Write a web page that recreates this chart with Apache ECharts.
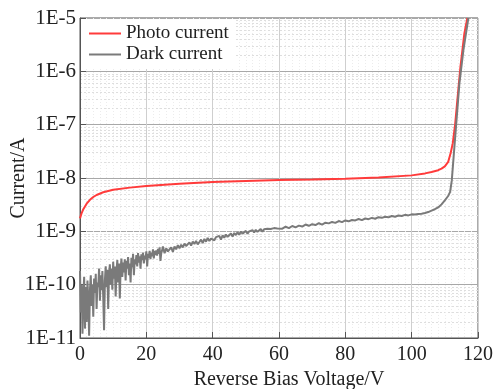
<!DOCTYPE html>
<html>
<head>
<meta charset="utf-8">
<script src="https://cdn.jsdelivr.net/npm/echarts@6/dist/echarts.min.js"></script>
<style>
  html, body { margin: 0; padding: 0; background: #fff; }
  #chart { width: 493px; height: 389px; }
</style>
</head>
<body>
<div id="chart"></div>
<script>
const seriesNames = ['Photo current', 'Dark current'];
const xTicks = [0, 20, 40, 60, 80, 100, 120];

// [voltage V, current A]
const photoCurrent = [
  [0, 1.75e-9], [0.5, 2.2e-9], [1, 2.6e-9], [2, 3.3e-9], [3, 3.9e-9], [4, 4.4e-9],
  [5, 4.8e-9], [7, 5.4e-9], [10, 6.0e-9], [15, 6.6e-9], [20, 7.1e-9], [30, 7.8e-9],
  [40, 8.4e-9], [50, 8.8e-9], [60, 9.2e-9], [70, 9.4e-9], [80, 9.7e-9], [90, 1.02e-8],
  [100, 1.12e-8], [104, 1.22e-8], [106, 1.3e-8], [108, 1.4e-8], [109, 1.5e-8],
  [110, 1.65e-8], [111, 2.0e-8], [111.8, 3.0e-8], [112.4, 4.5e-8], [113.1, 1.0e-7],
  [113.8, 3.0e-7], [114.7, 1.2e-6], [115.9, 5.2e-6], [116.8, 1.0e-5]
];

const darkCurrent = [
  [0, 1.8e-10], [0.25, 3e-11], [0.5, 1.0e-10], [0.75, 1.2e-11], [1, 6e-11], [1.25, 1.4e-10],
  [1.5, 1.5e-11], [1.75, 9e-11], [2, 2e-11], [2.25, 1.2e-10], [2.5, 5e-11], [2.75, 1.1e-11],
  [3, 8e-11], [3.25, 1.5e-10], [3.5, 4e-11], [3.75, 1.0e-10], [4, 2.5e-11], [4.25, 1.3e-10],
  [4.5, 7e-11], [4.75, 1.6e-10], [5, 3.5e-11], [5.25, 1.1e-10], [5.5, 9e-11], [5.75, 2.0e-10],
  [6, 5e-11], [6.25, 1.5e-10], [6.5, 8e-11], [6.75, 1.8e-10], [7, 6e-11], [7.25, 1.4e-11],
  [7.5, 1.2e-10], [7.75, 2.2e-10], [8, 9e-11], [8.25, 1.9e-10], [8.5, 3.5e-11], [8.75, 1.6e-10],
  [9, 2.4e-10], [9.25, 1.0e-10], [9.5, 2.0e-10], [9.75, 8e-11], [10, 2.7e-10], [10.25, 1.3e-10],
  [10.5, 2.2e-10], [10.75, 6e-11], [11, 1.8e-10], [11.25, 2.9e-10], [11.5, 1.1e-10], [11.75, 2.5e-10],
  [12, 5.5e-11], [12.25, 2.0e-10], [12.5, 3.1e-10], [12.75, 1.4e-10], [13, 2.6e-10], [13.25, 1.7e-10],
  [13.5, 3.0e-10], [13.75, 1.2e-10], [14, 2.8e-10], [14.25, 2.0e-10], [14.5, 3.3e-10], [14.75, 1.5e-10],
  [15, 2.5e-10], [15.25, 1.1e-10], [15.5, 3.2e-10], [15.75, 2.1e-10], [16, 3.8e-10], [16.25, 1.5e-10],
  [16.5, 3.0e-10], [16.75, 2.4e-10], [17, 3.6e-10], [17.25, 2.2e-10], [17.5, 3.9e-10], [17.75, 2.6e-10],
  [18, 3.4e-10], [18.25, 2.0e-10], [18.5, 3.7e-10], [18.75, 2.9e-10], [19, 4.0e-10], [19.25, 2.5e-10],
  [19.5, 3.5e-10], [19.75, 3.0e-10], [20, 4.2e-10], [20.25, 2.2e-10], [20.5, 3.8e-10], [20.75, 3.2e-10],
  [21, 4.3e-10], [21.25, 3.0e-10], [21.5, 4.0e-10], [21.75, 3.4e-10], [22, 4.6e-10], [22.25, 3.1e-10],
  [22.5, 4.3e-10], [22.75, 3.6e-10], [23, 4.4e-10], [23.25, 3.5e-10], [23.5, 4.7e-10], [23.75, 3.8e-10],
  [24, 5.0e-10], [24.25, 2.8e-10], [24.5, 3.9e-10], [24.75, 4.4e-10], [25, 5.2e-10], [25.5, 3.9e-10],
  [26, 4.8e-10], [26.5, 4.2e-10], [27, 4.5e-10], [27.5, 5.0e-10], [28, 4.1e-10], [28.5, 5.2e-10],
  [29, 4.6e-10], [29.5, 5.5e-10], [30, 4.8e-10], [30.5, 5.6e-10], [31, 5.0e-10], [31.5, 5.9e-10],
  [32, 5.3e-10], [32.5, 5.1e-10], [33, 6.2e-10], [33.5, 5.4e-10], [34, 6.4e-10], [34.5, 5.8e-10],
  [35, 6.6e-10], [35.5, 5.7e-10], [36, 6.3e-10], [36.5, 7.0e-10], [37, 6.0e-10], [37.5, 7.2e-10],
  [38, 6.4e-10], [38.5, 7.5e-10], [39, 6.6e-10], [39.5, 7.3e-10], [40, 7.9e-10], [40.5, 6.8e-10],
  [41, 7.8e-10], [41.5, 7.2e-10], [42, 8.2e-10], [42.5, 7.0e-10], [43, 8.4e-10], [43.5, 7.6e-10],
  [44, 8.7e-10], [44.5, 7.9e-10], [45, 8.3e-10], [45.5, 9.1e-10], [46, 8.0e-10], [46.5, 9.3e-10],
  [47, 8.5e-10], [47.5, 9.6e-10], [48, 8.6e-10], [48.5, 9.9e-10], [49, 9.0e-10], [49.5, 9.6e-10],
  [50, 1.02e-9], [50.5, 9.0e-10], [51, 1.0e-9], [51.5, 9.4e-10], [52, 1.05e-9], [52.5, 9.5e-10],
  [53, 1.07e-9], [53.5, 9.8e-10], [54, 1.04e-9], [54.5, 1.1e-9], [55, 9.9e-10], [55.5, 1.09e-9],
  [56, 1.02e-9], [56.5, 1.12e-9], [57, 1.04e-9], [57.5, 1.11e-9], [58, 1.05e-9], [58.5, 1.15e-9],
  [59, 1.07e-9], [59.5, 1.13e-9], [60, 1.17e-9], [61, 1.12e-9], [62, 1.22e-9], [63, 1.15e-9],
  [64, 1.26e-9], [65, 1.19e-9], [66, 1.28e-9], [67, 1.23e-9], [68, 1.34e-9], [69, 1.27e-9],
  [70, 1.36e-9], [71, 1.31e-9], [72, 1.42e-9], [73, 1.34e-9], [74, 1.45e-9], [75, 1.41e-9],
  [76, 1.5e-9], [77, 1.44e-9], [78, 1.56e-9], [79, 1.49e-9], [80, 1.6e-9], [81, 1.54e-9],
  [82, 1.63e-9], [83, 1.6e-9], [84, 1.7e-9], [85, 1.62e-9], [86, 1.74e-9], [87, 1.69e-9],
  [88, 1.79e-9], [89, 1.72e-9], [90, 1.84e-9], [91, 1.79e-9], [92, 1.88e-9], [93, 1.83e-9],
  [94, 1.94e-9], [95, 1.88e-9], [96, 1.98e-9], [97, 1.94e-9], [98, 2.04e-9], [99, 1.99e-9],
  [100, 2.08e-9], [101, 2.06e-9], [102, 2.12e-9], [103, 2.14e-9], [104, 2.2e-9], [105, 2.3e-9],
  [106, 2.45e-9], [107, 2.6e-9], [108, 2.8e-9], [109, 3.2e-9], [110, 3.8e-9], [111, 4.6e-9],
  [111.6, 5.5e-9], [112.1, 9e-9], [112.8, 3.3e-8], [113.6, 1.4e-7], [114.4, 6e-7],
  [115.6, 2.5e-6], [117.1, 1.0e-5]
];

const serif = '"Liberation Serif", "DejaVu Serif", serif';
const chart = echarts.init(document.getElementById('chart'));

chart.setOption({
  animation: false,
  color: ['#ff3b3b', '#7a7a7a'],
  textStyle: { fontFamily: serif },
  grid: {
    left: 80, right: 15, top: 18, bottom: 51, outerBoundsMode: 'none',
    show: true, borderColor: '#555', borderWidth: 1, backgroundColor: 'transparent'
  },
  legend: {
    data: seriesNames,
    orient: 'vertical',
    left: 81,
    top: 19,
    padding: [5, 6, 5, 8],
    itemGap: 2,
    itemWidth: 32,
    itemHeight: 2,
    icon: 'rect',
    backgroundColor: '#fff',
    textStyle: { fontFamily: serif, fontSize: 19, color: '#222' }
  },
  xAxis: {
    type: 'value',
    min: 0,
    max: 120,
    interval: 20,
    name: 'Reverse Bias Voltage/V',
    nameLocation: 'middle',
    nameGap: 32,
    nameMoveOverlap: false,
    nameTextStyle: { fontFamily: serif, fontSize: 20, color: '#222', padding: [0, 0, 0, 20] },
    axisLine: { lineStyle: { color: '#555' } },
    axisTick: { inside: true, length: 6, lineStyle: { color: '#555' } },
    axisLabel: { fontFamily: serif, fontSize: 20, color: '#222', margin: 7,
      formatter: v => xTicks.includes(v) ? String(v) : '' },
    splitLine: { show: true, lineStyle: { color: '#cfcfcf', width: 1 } },
    minorTick: { show: false, splitNumber: 10 },
    minorSplitLine: { show: true, lineStyle: { color: '#ececec', width: 1, type: [1, 2] } }
  },
  yAxis: {
    type: 'log',
    min: 1e-11,
    max: 1e-5,
    logBase: 10,
    name: 'Current/A',
    nameLocation: 'middle',
    nameGap: 51,
    nameMoveOverlap: false,
    nameTextStyle: { fontFamily: serif, fontSize: 20, color: '#222' },
    axisLine: { lineStyle: { color: '#555' } },
    axisTick: { inside: true, length: 6, lineStyle: { color: '#555' } },
    axisLabel: { fontFamily: serif, fontSize: 21, color: '#222', margin: 4,
      formatter: v => '1E' + Math.round(Math.log10(v)) },
    splitLine: { show: true, lineStyle: { color: '#a8a8a8', width: 1 } },
    minorTick: { show: false, splitNumber: 9 },
    minorSplitLine: { show: true, lineStyle: { color: '#dedede', width: 1, type: [2, 2] } }
  },
  series: [
    { name: seriesNames[0], type: 'line', data: photoCurrent, showSymbol: false,
      lineStyle: { width: 2 }, clip: true },
    { name: seriesNames[1], type: 'line', data: darkCurrent, showSymbol: false,
      lineStyle: { width: 2 }, clip: true }
  ]
});
</script>
</body>
</html>
